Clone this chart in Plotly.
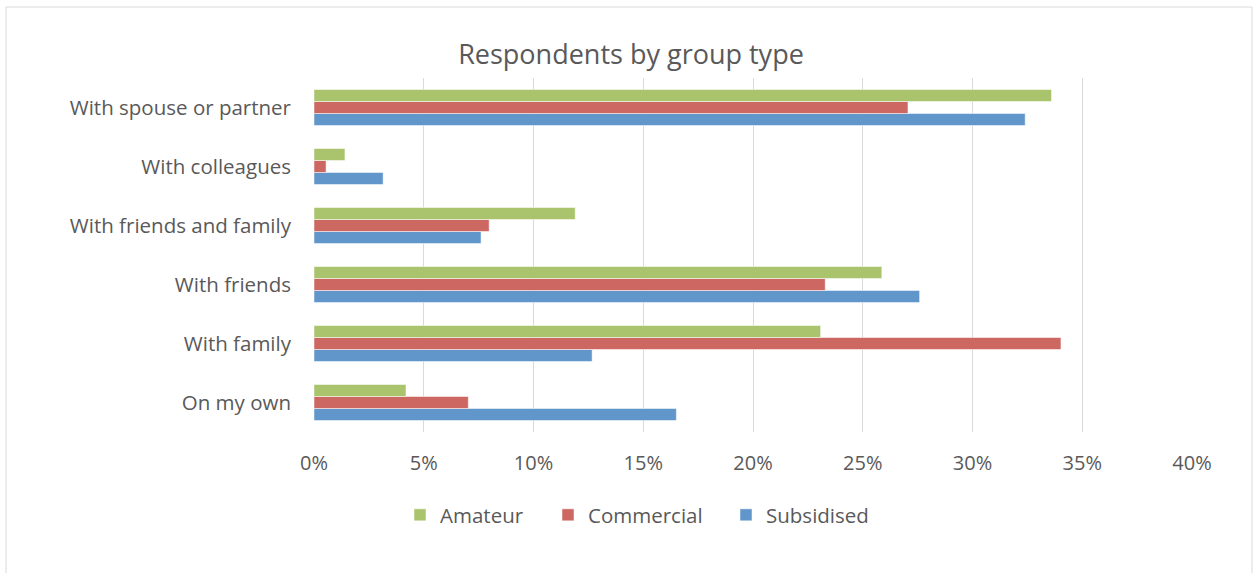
import plotly.graph_objects as go

# Categories, bottom to top on the y axis
categories = [
    "On my own",
    "With family",
    "With friends",
    "With friends and family",
    "With colleagues",
    "With spouse or partner",
]

# Share of respondents (fractions) per group type
amateur = [0.0419, 0.2308, 0.2587, 0.1190, 0.0141, 0.3360]
commercial = [0.0703, 0.3403, 0.2329, 0.0798, 0.0055, 0.2706]
subsidised = [0.1651, 0.1267, 0.2759, 0.0761, 0.0315, 0.3240]

tick_values = [0, 0.05, 0.10, 0.15, 0.20, 0.25, 0.30, 0.35, 0.40]
tick_labels = ["0%", "5%", "10%", "15%", "20%", "25%", "30%", "35%", "40%"]

GREEN = "#A9C46C"
RED = "#CD6762"
BLUE = "#6096CA"
TEXT = "#595959"
GRID = "#D9D9D9"
FONT = "Open Sans"

W, H = 1255, 573
L, R, T, B = 314, 63, 78, 141
pw, ph = W - L - R, H - T - B

fig = go.Figure()
# Plotly stacks grouped horizontal bars bottom-up in trace order;
# each series gets its own legend box so the entries can be spaced freely
series = [
    ("Subsidised", subsidised, BLUE, "legend3", 726),
    ("Commercial", commercial, RED, "legend2", 548),
    ("Amateur", amateur, GREEN, "legend", 400),
]
for name, vals, col, leg, _ in series:
    fig.add_trace(
        go.Bar(
            y=categories,
            x=vals,
            name=name,
            orientation="h",
            legend=leg,
            marker=dict(color=col, line=dict(color="rgba(255,255,255,0.5)", width=1)),
        )
    )


def px_x(x):
    return (x - L) / pw


def px_y(y):
    return (H - B - y) / ph


def legend_box(left_px):
    return dict(
        orientation="h",
        xref="container",
        yref="container",
        x=left_px / W,
        xanchor="left",
        y=1 - 515 / H,
        yanchor="middle",
        font=dict(size=20.5, color=TEXT, family=FONT),
        itemclick=False,
        itemdoubleclick=False,
        bgcolor="rgba(0,0,0,0)",
    )


legends = {leg: legend_box(x) for _, _, _, leg, x in series}

fig.update_layout(
    width=W,
    height=H,
    margin=dict(l=L, r=R, t=T, b=B),
    paper_bgcolor="white",
    plot_bgcolor="white",
    barmode="group",
    bargap=0.39,
    bargroupgap=0,
    font=dict(family=FONT, color=TEXT, size=20),
    title=dict(
        text="Respondents by group type",
        x=631 / W,
        xref="container",
        xanchor="center",
        y=1 - 55 / H,
        yref="container",
        yanchor="middle",
        font=dict(family=FONT, size=27, color=TEXT),
    ),
    xaxis=dict(
        range=[0, 0.40],
        tickvals=tick_values,
        ticktext=tick_labels,
        showgrid=True,
        gridcolor=GRID,
        gridwidth=1,
        zeroline=False,
        showline=False,
        ticks="",
        ticklabelstandoff=17,
        tickfont=dict(size=20, color=TEXT),
        fixedrange=True,
    ),
    yaxis=dict(
        categoryorder="array",
        categoryarray=categories,
        showgrid=False,
        zeroline=False,
        showline=False,
        ticks="",
        ticklabelstandoff=22,
        tickfont=dict(size=20.5, color=TEXT),
        fixedrange=True,
    ),
    showlegend=True,
    shapes=[
        dict(
            type="rect",
            xref="paper",
            yref="paper",
            x0=px_x(6),
            x1=px_x(1252),
            y0=px_y(590),
            y1=px_y(7),
            line=dict(color=GRID, width=1),
            fillcolor="rgba(0,0,0,0)",
            layer="below",
        )
    ],
    **legends,
)

fig.write_html("out.html")
